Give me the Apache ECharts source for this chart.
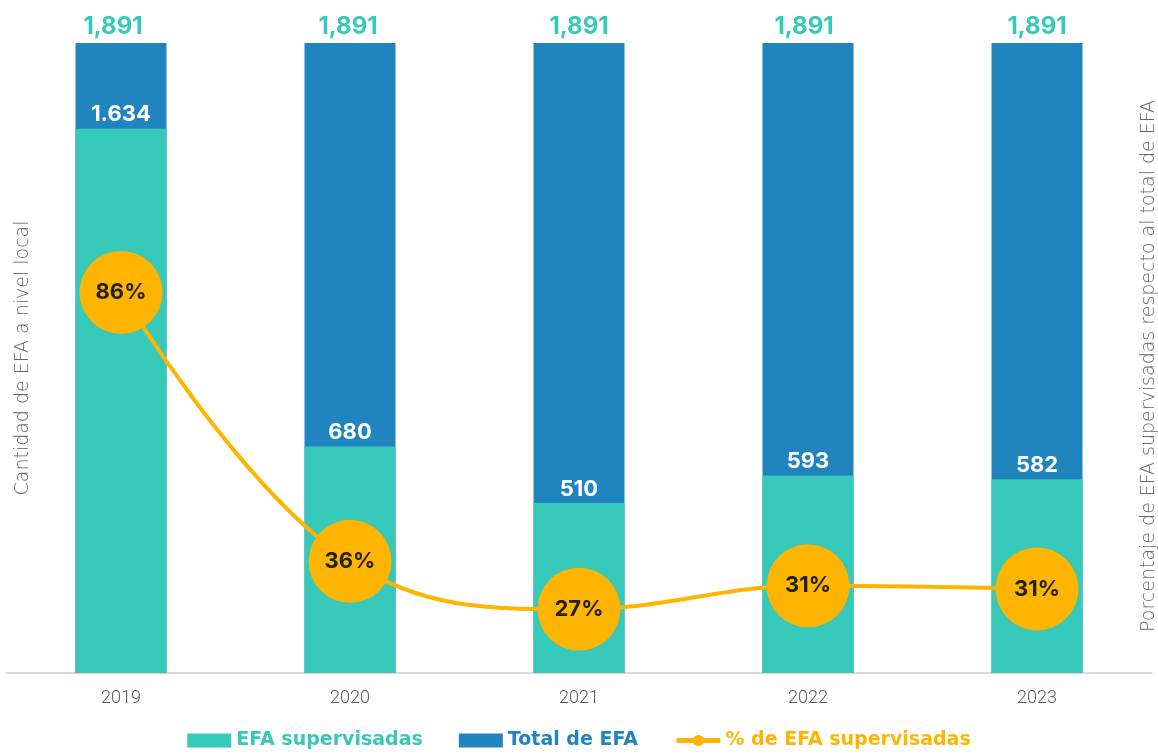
<!DOCTYPE html>
<html>
<head>
<meta charset="utf-8">
<script src="https://cdn.jsdelivr.net/npm/echarts@6/dist/echarts.min.js"></script>
<style>
html,body{margin:0;padding:0;background:#fff;}
#chart{width:1158px;height:755px;}
</style>
</head>
<body>
<div id="chart"></div>
<script>
const years = ['2019', '2020', '2021', '2022', '2023'];
const efaSupervisadas = [1634, 680, 510, 593, 582];
const totalEfa = [1891, 1891, 1891, 1891, 1891];
const pctSupervisadas = [86.41, 35.96, 26.97, 31.36, 30.78];
const leftAxisTitle = 'Cantidad de EFA a nivel local';
const rightAxisTitle = 'Porcentaje de EFA supervisadas respecto al total de EFA';

const TEAL = '#36C8B9', BLUE = '#2084BF', ORANGE = '#FFB400';
const FONT = 'Inter, "Noto Sans", sans-serif';
const TITLE_FONT = '"DejaVu Sans", sans-serif';
const totalLabelShift = [-8, -2, 0, -4, 0];

function fmt(v, sep) {
  return String(v).replace(/\B(?=(\d{3})+(?!\d))/g, sep);
}

const chart = echarts.init(document.getElementById('chart'));
chart.setOption({
  animation: false,
  textStyle: {fontFamily: FONT},
  grid: {left: 6.5, right: 6.5, top: 6.8, bottom: 82, containLabel: false, outerBoundsMode: 'none'},
  graphic: [{
    type: 'text', x: 23, y: 358, rotation: Math.PI / 2, silent: true,
    style: {text: leftAxisTitle, fill: '#666', font: '200 19px ' + TITLE_FONT, textAlign: 'center', textVerticalAlign: 'middle'}
  }, {
    type: 'text', x: 1149.5, y: 366, rotation: Math.PI / 2, silent: true,
    style: {text: rightAxisTitle, fill: '#666', font: '200 19px ' + TITLE_FONT, textAlign: 'center', textVerticalAlign: 'middle'}
  }],
  legend: {
    bottom: 0,
    left: 'center',
    itemWidth: 44,
    itemHeight: 14,
    itemGap: 36,
    data: [
      {name: 'EFA supervisadas', icon: 'rect'},
      {name: 'Total de EFA', icon: 'rect'},
      {name: '% de EFA supervisadas', lineStyle: {width: 5}}
    ],
    textStyle: {fontSize: 19, fontWeight: 'bold', fontFamily: '"DejaVu Sans", sans-serif', color: 'inherit'}
  },
  xAxis: {
    type: 'category',
    data: years,
    axisTick: {show: false},
    axisLine: {lineStyle: {color: '#d9d9d9', width: 2}},
    axisLabel: {color: '#595959', fontSize: 18, margin: 16, fontFamily: 'Roboto, sans-serif', fontWeight: 300}
  },
  yAxis: [{
    type: 'value', min: 0, max: 2000,
    splitLine: {show: false}, axisLabel: {show: false}, axisLine: {show: false}, axisTick: {show: false}
  }, {
    type: 'value', min: 15, max: 140,
    splitLine: {show: false}, axisLabel: {show: false}, axisLine: {show: false}, axisTick: {show: false}
  }],
  series: [{
    name: 'Total de EFA',
    type: 'bar',
    data: totalEfa,
    barWidth: 91,
    barGap: '-100%',
    itemStyle: {color: BLUE},
    label: {show: true, position: 'top', distance: 4, color: TEAL, fontSize: 24, fontWeight: 'bold', fontFamily: FONT,
      formatter: p => fmt(p.value, ',')},
    labelLayout: p => ({dx: totalLabelShift[p.dataIndex]})
  }, {
    name: 'EFA supervisadas',
    type: 'bar',
    data: efaSupervisadas,
    barWidth: 91,
    barGap: '-100%',
    itemStyle: {color: TEAL},
    label: {show: true, position: 'top', distance: 3, color: '#fff', fontSize: 22, fontWeight: 'bold', fontFamily: FONT,
      formatter: p => fmt(p.value, '.')}
  }, {
    name: '% de EFA supervisadas',
    type: 'line',
    yAxisIndex: 1,
    data: pctSupervisadas,
    smooth: 0.4,
    symbol: 'circle',
    symbolSize: 83,
    lineStyle: {color: ORANGE, width: 4},
    itemStyle: {color: ORANGE},
    label: {show: true, position: 'inside', color: '#222', fontSize: 22, fontWeight: 'bold', fontFamily: FONT,
      formatter: p => Math.round(p.value) + '%'},
    z: 5
  }]
});
</script>
</body>
</html>
